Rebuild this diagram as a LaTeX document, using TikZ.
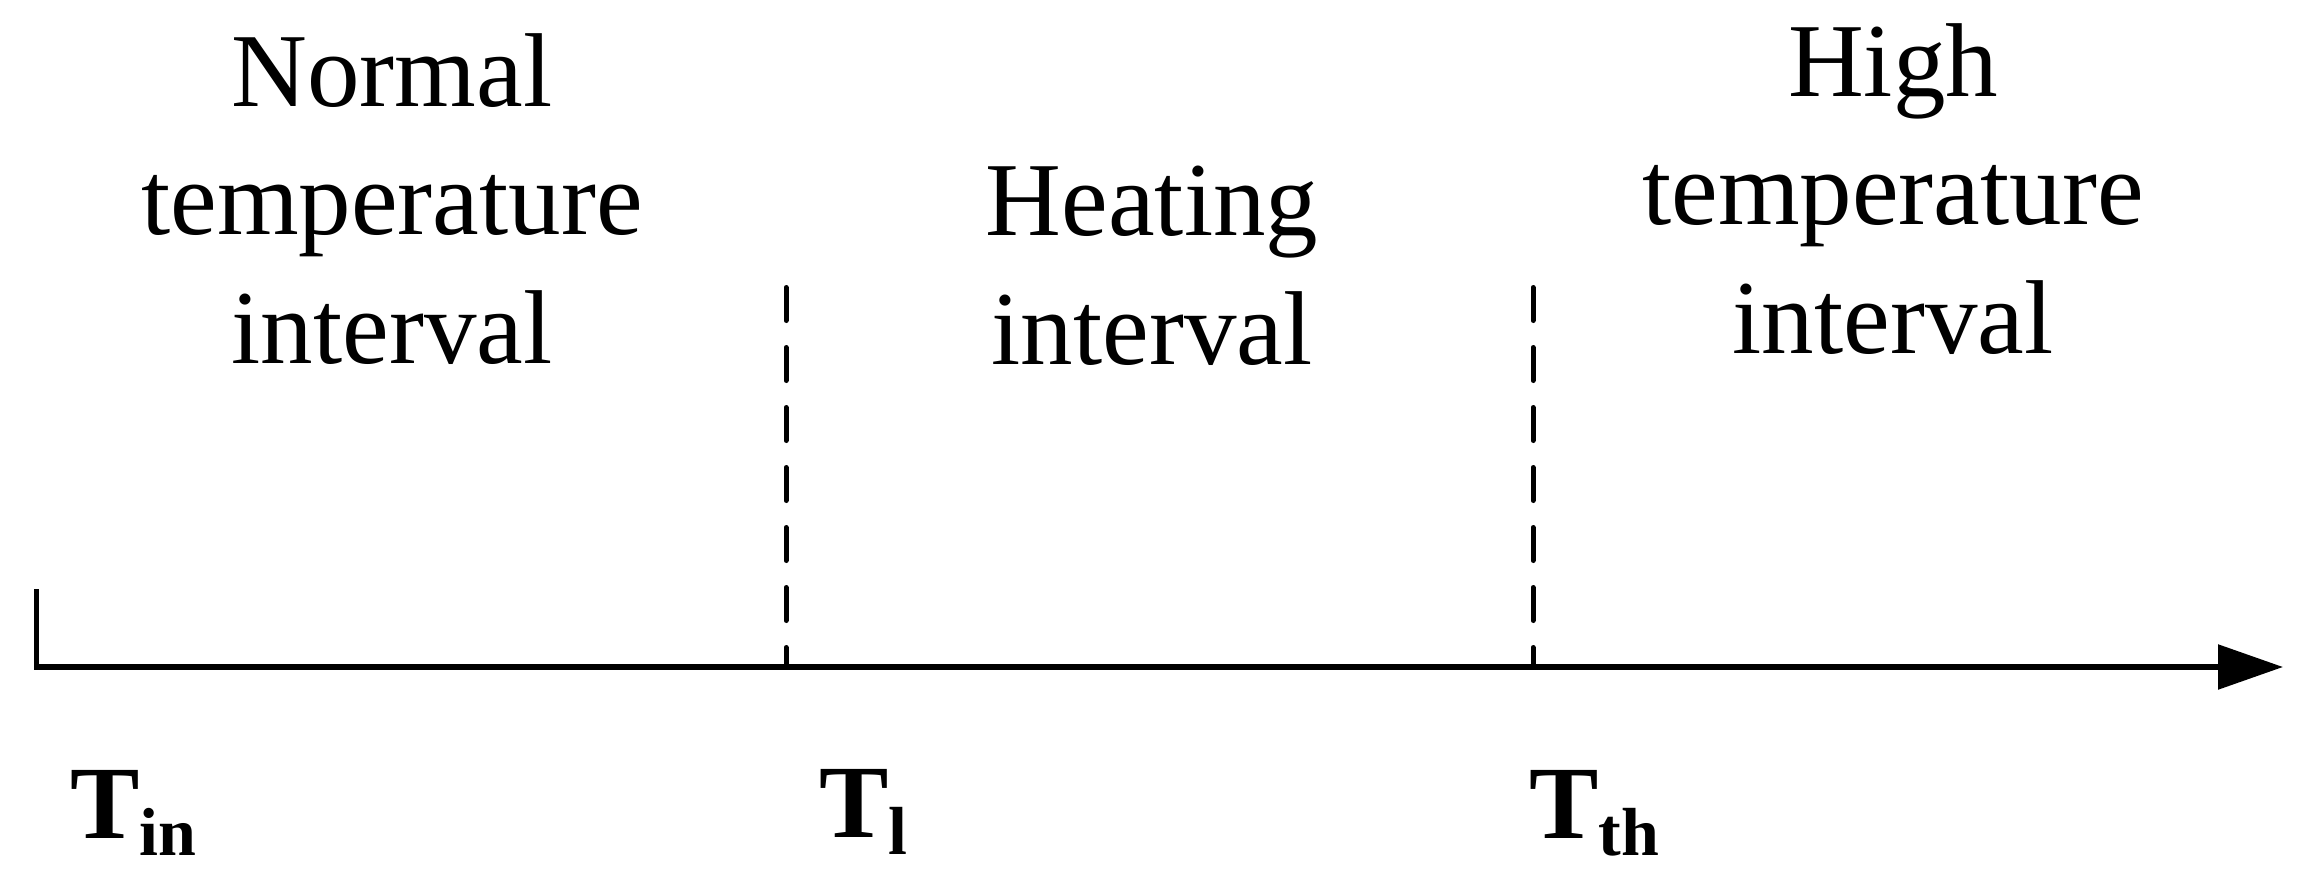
\documentclass[tikz,border=0pt]{standalone}
\usepackage{fontspec}
\setmainfont{Liberation Serif}
\usetikzlibrary{arrows.meta}
\tikzset{
  axisline/.style={line width=5.5pt, line join=miter},
  divider/.style={line width=5pt, line cap=round, dash pattern=on 33pt off 27pt},
  region/.style={align=center, anchor=base, inner sep=0pt, font=\fontsize{105}{128.5}\selectfont},
  tlabel/.style={anchor=base west, inner sep=0pt, font=\fontsize{104}{110}\selectfont\bfseries}
}
\newcommand{\tsub}[1]{\raisebox{-17pt}{\fontsize{68}{68}\selectfont\bfseries #1}}
\begin{document}
\begin{tikzpicture}[x=1pt,y=-1pt]
\useasboundingbox (0,0) rectangle (2309,880);
% axis
\coordinate (vtop) at (36.5,589);
\coordinate (origin) at (36.5,667);
\coordinate (tip) at (2283,667);
\draw[axisline, -{Triangle[length=65pt,width=44pt]}] (vtop) -- (origin) -- (tip);
% dividers
\coordinate (d1top) at (786,287.5);
\coordinate (d1bot) at (786,667);
\coordinate (d2top) at (1533,287.5);
\coordinate (d2bot) at (1533,667);
\draw[divider] (d1top) -- (d1bot);
\draw[divider] (d2top) -- (d2bot);
% region labels (anchor = baseline of last line)
\node[region] (normal) at (392,363) {Normal\\temperature\\interval};
\node[region] (heating) at (1152,364) {Heating\\interval};
\node[region] (high) at (1893,353) {High\\temperature\\interval};
% temperature labels
\node[tlabel] (tin) at (70,838) {T\tsub{in}};
\node[tlabel] (tl) at (819,837) {T\tsub{l}};
\node[tlabel] (tth) at (1529,838) {T\tsub{th}};
\end{tikzpicture}
\end{document}
